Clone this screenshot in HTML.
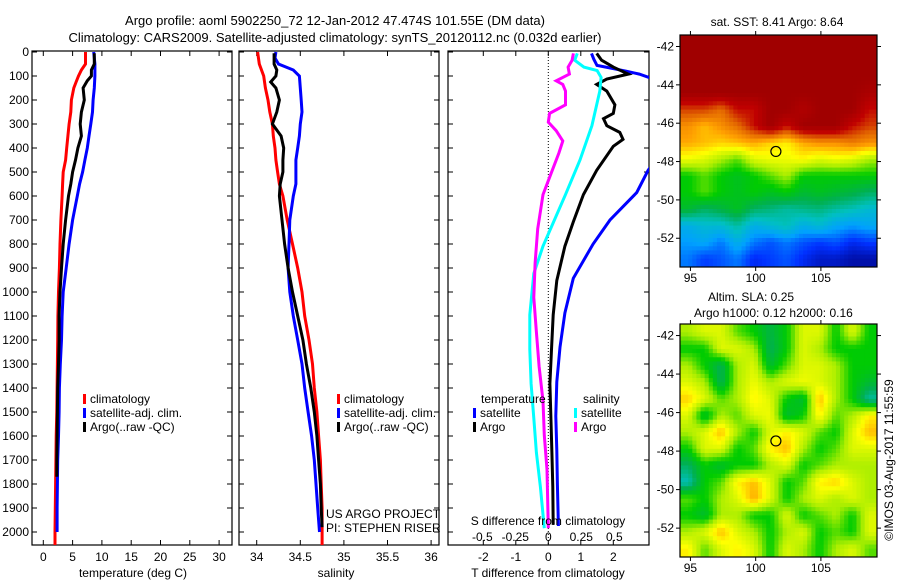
<!DOCTYPE html>
<html><head><meta charset="utf-8"><style>
body{margin:0;background:#fff;}
svg{display:block;font-family:"Liberation Sans",sans-serif;font-size:12px;}
</style></head><body>
<svg id="fig" width="900" height="580" viewBox="0 0 900 580">
<text x="335" y="25" text-anchor="middle" font-size="13">Argo profile: aoml 5902250_72 12-Jan-2012 47.474S 101.55E (DM data)</text>
<text x="335" y="42" text-anchor="middle" font-size="13">Climatology: CARS2009. Satellite-adjusted climatology: synTS_20120112.nc (0.032d earlier)</text>
<defs>
<clipPath id="c1"><rect x="32" y="33" width="200" height="512"/></clipPath>
<clipPath id="c2"><rect x="239" y="33" width="200" height="512"/></clipPath>
<clipPath id="c3"><rect x="448" y="33" width="201" height="512"/></clipPath>
</defs>
<g id="g1"></g><g id="g2"></g><g id="g3"></g><g id="g4"></g><g id="g5"></g>
</svg>
<script>
// ---- depth axis
const depthTicks=[0,100,200,300,400,500,600,700,800,900,1000,1100,1200,1300,1400,1500,1600,1700,1800,1900,2000];
// ---- temperature panel
const tDepth=[0,50,75,100,125,150,200,250,300,350,400,450,500,550,600,700,800,900,1000,1100,1200,1300,1400,1500,1600,1700,1800,1900,2000,2060];
const tClim=[7.2,7.2,6.5,6.0,5.6,5.2,4.8,4.7,4.4,4.2,4.0,3.8,3.4,3.3,3.2,3.0,2.85,2.75,2.6,2.5,2.45,2.4,2.35,2.3,2.2,2.15,2.1,2.05,2.0,2.0];
const tSatDepth=[0,50,100,150,200,250,300,350,400,450,500,550,600,700,800,900,1000,1100,1200,1300,1400,1500,1600,1700,1800,1900,2000];
const tSat=[8.6,8.8,8.8,8.7,8.5,8.4,8.1,7.8,7.5,7.1,6.7,6.2,5.8,5.0,4.4,3.9,3.4,3.2,3.1,2.9,2.75,2.7,2.6,2.45,2.4,2.35,2.35];
const tArgoDepth=[5,50,75,100,120,150,200,250,300,350,400,450,500,550,600,700,800,900,1000,1100,1200,1300,1400,1500,1600,1700,1770];
const tArgo=[8.7,8.7,8.2,8.2,7.5,6.8,7.0,6.5,6.3,6.5,5.9,5.5,5.0,4.7,4.3,3.8,3.4,3.1,2.85,2.7,2.7,2.6,2.45,2.4,2.35,2.3,2.3];
const tTicks=[0,5,10,15,20,25,30];
// ---- salinity panel
const sDepth=[0,50,100,150,200,250,300,350,400,450,500,550,600,700,800,900,1000,1100,1200,1300,1400,1500,1600,1700,1800,1900,2000,2060];
const sClim=[34.01,34.03,34.08,34.10,34.13,34.15,34.18,34.19,34.21,34.22,34.24,34.26,34.30,34.35,34.41,34.47,34.52,34.55,34.60,34.64,34.66,34.69,34.71,34.73,34.74,34.75,34.75,34.75];
const sSatDepth=[0,25,50,75,100,150,200,250,300,350,400,450,500,550,600,700,800,900,1000,1100,1200,1300,1400,1500,1600,1700,1800,1900,2000];
const sSat=[34.22,34.21,34.25,34.42,34.49,34.50,34.51,34.52,34.50,34.49,34.47,34.45,34.45,34.45,34.42,34.38,34.37,34.36,34.38,34.42,34.47,34.52,34.55,34.59,34.63,34.66,34.68,34.70,34.72];
const sArgoDepth=[5,50,75,100,125,150,200,250,300,350,400,450,500,550,600,700,800,900,1000,1100,1200,1300,1400,1500,1600,1700,1800,1900,1980];
const sArgo=[34.20,34.20,34.23,34.22,34.16,34.22,34.26,34.23,34.18,34.28,34.31,34.30,34.30,34.27,34.26,34.29,34.32,34.36,34.41,34.47,34.53,34.57,34.62,34.66,34.69,34.71,34.73,34.74,34.75];
const sTicks=[34,34.5,35,35.5,36];
const sTickLabels=["34","34.5","35","35.5","36"];
// ---- difference panel
const dtSatDepth=[6,30,56,80,92,106,150,300,450,493,586,700,800,943,1087,1230,1374,1517,1660,1803,1975];
const dtSat=[1.33,1.4,1.5,2.4,2.8,3.1,4,4.5,3.3,3.07,2.72,1.9,1.38,0.77,0.51,0.36,0.26,0.23,0.26,0.28,0.31];
const dtArgoDepth=[6,34,63,92,113,135,163,220,256,278,307,335,364,393,493,594,708,809,952,1095,1239,1382,1525,1669,1812,1970];
const dtArgo=[1.49,1.64,2.0,2.46,1.8,1.49,1.8,2.05,2.0,1.7,1.8,2.2,2.3,2.0,1.49,1.08,0.77,0.51,0.26,0.15,0.10,0.05,0.08,0.11,0.14,0.15];
const dsSatDepth=[6,34,63,77,106,163,307,450,594,708,809,923,1095,1239,1382,1525,1669,1812,1984];
const dsSat=[0.22,0.20,0.27,0.37,0.40,0.39,0.33,0.24,0.13,0.04,-0.04,-0.11,-0.14,-0.14,-0.13,-0.11,-0.09,-0.06,-0.03];
const dsArgoDepth=[6,34,63,92,120,135,163,220,256,292,328,371,421,522,594,737,880,1023,1167,1310,1454,1597,1740,1984];
const dsArgo=[0.19,0.18,0.15,0.16,0.06,0.11,0.13,0.13,0.01,0.0,0.06,0.11,0.08,0.01,-0.04,-0.08,-0.10,-0.11,-0.09,-0.07,-0.04,-0.03,-0.01,0.0];
const dtTicks=[-2,-1,0,1,2];
const dsTicks=[-0.5,-0.25,0,0.25,0.5];
// ---- maps
const lonTicks=[95,100,105];
const latTicks=[-42,-44,-46,-48,-50,-52];
const sstGrid=[
[1,1,1,1,1,1,1,1,1,1,1,1],
[1,1,1,1,1,1,1,1,1,1,1,1],
[1,1,1,1,1,1,1,1,1,1,1,1],
[1,1,1,1,1,1,1,1,1,1,1,0.97],
[0.85,0.85,0.8,0.9,0.9,1,1,0.95,1,1,1,0.9],
[0.75,0.7,0.75,0.8,0.9,1,0.9,1,1,1,0.9,0.85],
[0.72,0.7,0.68,0.7,0.72,0.68,0.65,0.72,0.75,0.75,0.78,0.75],
[0.62,0.6,0.55,0.5,0.6,0.62,0.62,0.64,0.6,0.62,0.6,0.55],
[0.45,0.5,0.45,0.42,0.45,0.5,0.55,0.45,0.45,0.45,0.45,0.45],
[0.45,0.5,0.45,0.42,0.45,0.42,0.45,0.4,0.42,0.4,0.38,0.35],
[0.4,0.35,0.38,0.42,0.35,0.33,0.3,0.32,0.33,0.3,0.28,0.25],
[0.22,0.25,0.25,0.3,0.22,0.25,0.28,0.22,0.25,0.2,0.18,0.2],
[0.18,0.2,0.15,0.22,0.15,0.12,0.15,0.12,0.1,0.12,0.08,0.1],
[0.15,0.1,0.12,0.15,0.08,0.1,0.12,0.08,0.05,0.05,0.03,0.03]];
const slaGrid=[
[0.55,0.6,0.6,0.5,0.45,0.38,0.45,0.6,0.6,0.45,0.6,0.45],
[0.45,0.45,0.6,0.6,0.55,0.36,0.45,0.6,0.55,0.45,0.45,0.45],
[0.55,0.45,0.36,0.55,0.6,0.4,0.5,0.6,0.6,0.55,0.45,0.45],
[0.6,0.55,0.36,0.55,0.62,0.55,0.6,0.62,0.6,0.55,0.45,0.4],
[0.68,0.6,0.5,0.55,0.65,0.6,0.45,0.4,0.7,0.55,0.45,0.3],
[0.6,0.4,0.55,0.5,0.6,0.62,0.4,0.45,0.65,0.5,0.55,0.65],
[0.55,0.6,0.7,0.55,0.45,0.6,0.65,0.6,0.5,0.45,0.6,0.7],
[0.45,0.6,0.6,0.45,0.5,0.65,0.7,0.55,0.45,0.5,0.6,0.6],
[0.35,0.45,0.4,0.45,0.45,0.55,0.6,0.45,0.5,0.55,0.55,0.55],
[0.28,0.45,0.5,0.65,0.7,0.6,0.45,0.5,0.65,0.68,0.6,0.55],
[0.5,0.45,0.55,0.6,0.72,0.6,0.45,0.55,0.6,0.55,0.6,0.55],
[0.45,0.4,0.55,0.55,0.45,0.45,0.6,0.45,0.5,0.55,0.45,0.6],
[0.55,0.6,0.7,0.6,0.55,0.45,0.55,0.6,0.45,0.5,0.45,0.6],
[0.65,0.5,0.6,0.65,0.6,0.45,0.6,0.55,0.45,0.55,0.6,0.5]];
const argoLon=101.55, argoLat=-47.474;

const NS="http://www.w3.org/2000/svg";
function mk(tag,parent,attrs,text){const e=document.createElementNS(NS,tag);for(const k in attrs)e.setAttribute(k,attrs[k]);if(text!==undefined)e.textContent=text;parent.appendChild(e);return e;}
const Y0=51, Y1=545;
const yD=d=>52+d*0.24;
const xT=t=>43.3+t*5.86;
const xS=s=>256.7+(s-34)*87.2;
const xDT=t=>548.3+t*32.5;
const xDS=s=>548.3+s*132;

function axesBox(g,x0,x1,y0,y1){
  const r=mk('rect',g,{x:x0,y:y0,width:x1-x0,height:y1-y0,fill:'none',stroke:'#000','stroke-width':1.2});
  
  
}
function depthTickMarks(g,x0,x1,labels){
  depthTicks.forEach(d=>{
    const y=yD(d);
    mk('line',g,{x1:x0,x2:x0+5,y1:y,y2:y,stroke:'#000'});
    mk('line',g,{x1:x1,x2:x1-5,y1:y,y2:y,stroke:'#000'});
    if(labels){const t=mk('text',g,{x:x0-3,y:y+4,'text-anchor':'end'},String(d));
      
      }
  });
}
function xTicks(g,vals,labs,fx,yTop,yBot,labY){
  vals.forEach((v,i)=>{const x=fx(v);
    mk('line',g,{x1:x,x2:x,y1:yTop,y2:yTop+5,stroke:'#000'});
    mk('line',g,{x1:x,x2:x,y1:yBot,y2:yBot-5,stroke:'#000'});
    if(labY){const t=mk('text',g,{x:x,y:labY,'text-anchor':'middle'},labs[i]);
      
      }
  });
}
function line(g,xs,ds,fx,color,clip,name){
  const pts=xs.map((v,i)=>fx(v).toFixed(1)+','+yD(ds[i]).toFixed(1)).join(' ');
  const p=mk('polyline',g,{points:pts,fill:'none',stroke:color,'stroke-width':3,'clip-path':'url(#'+clip+')'});
  
  
}
function legend(g,x,y,color,label){
  mk('rect',g,{x:x,y:y-9,width:3,height:10,fill:color});
  const t=mk('text',g,{x:x+7,y:y},label);
  
  
}

// Panel 1
const g1=document.getElementById('g1');


axesBox(g1,32,232,Y0,Y1);
depthTickMarks(g1,32,232,true);
xTicks(g1,tTicks,tTicks.map(String),xT,Y0,Y1,561);
line(g1,tClim,tDepth,xT,'#ff0000','c1','temp-climatology-line');
line(g1,tSat,tSatDepth,xT,'#0000ff','c1','temp-satellite-line');
line(g1,tArgo,tArgoDepth,xT,'#000000','c1','temp-argo-line');
legend(g1,83,403,'#ff0000','climatology');
legend(g1,83,417,'#0000ff','satellite-adj. clim.');
legend(g1,83,431,'#000000','Argo(..raw -QC)');
let t=mk('text',g1,{x:133,y:577,'text-anchor':'middle'},'temperature (deg C)');



// Panel 2
const g2=document.getElementById('g2');


axesBox(g2,239,439,Y0,Y1);
depthTickMarks(g2,239,439,false);
xTicks(g2,sTicks,sTickLabels,xS,Y0,Y1,561);
line(g2,sClim,sDepth,xS,'#ff0000','c2','sal-climatology-line');
line(g2,sSat,sSatDepth,xS,'#0000ff','c2','sal-satellite-line');
line(g2,sArgo,sArgoDepth,xS,'#000000','c2','sal-argo-line');
legend(g2,337,403,'#ff0000','climatology');
legend(g2,337,417,'#0000ff','satellite-adj. clim.');
legend(g2,337,431,'#000000','Argo(..raw -QC)');
t=mk('text',g2,{x:326,y:518},'US ARGO PROJECT');


t=mk('text',g2,{x:326,y:532},'PI: STEPHEN RISER');


t=mk('text',g2,{x:336,y:577,'text-anchor':'middle'},'salinity');



// Panel 3
const g3=document.getElementById('g3');


axesBox(g3,448,649,Y0,Y1);
depthTickMarks(g3,448,649,false);
xTicks(g3,dtTicks,dtTicks.map(String),xDT,Y0,Y1,561);
mk('line',g3,{x1:xDT(0),x2:xDT(0),y1:Y0,y2:Y1,stroke:'#000','stroke-dasharray':'1,2'});
line(g3,dtSat,dtSatDepth,xDT,'#0000ff','c3','tdiff-satellite-line');
line(g3,dtArgo,dtArgoDepth,xDT,'#000000','c3','tdiff-argo-line');
line(g3,dsSat,dsSatDepth,xDS,'#00ffff','c3','sdiff-satellite-line');
line(g3,dsArgo,dsArgoDepth,xDS,'#ff00ff','c3','sdiff-argo-line');
t=mk('text',g3,{x:481,y:403},'temperature');


t=mk('text',g3,{x:583,y:403},'salinity');


legend(g3,473,417,'#0000ff','satellite');
legend(g3,473,431,'#000000','Argo');
legend(g3,574,417,'#00ffff','satellite');
legend(g3,574,431,'#ff00ff','Argo');
t=mk('text',g3,{x:548,y:525,'text-anchor':'middle'},'S difference from climatology');


dsTicks.forEach(v=>{const tt=mk('text',g3,{x:xDS(v),y:541,'text-anchor':'middle'},String(v));
  
  });
t=mk('text',g3,{x:548,y:577,'text-anchor':'middle'},'T difference from climatology');



// Maps
const stops=['#000080','#0030ff','#00a0ff','#00c0c0','#00b050','#00cc00','#aaee00','#ffff00','#ffa000','#e06000','#c00000','#a00000'];
function hex(c){return [1,3,5].map(i=>parseInt(c.substr(i,2),16));}
function cmap(v){v=Math.max(0,Math.min(1,v));const f=v*(stops.length-1);const i=Math.min(stops.length-2,Math.floor(f));const r=f-i;const a=hex(stops[i]),b=hex(stops[i+1]);return 'rgb('+a.map((x,k)=>Math.round(x+(b[k]-x)*r)).join(',')+')';}
const lon0=94.2,lon1=109.3,lat0=-41.4,lat1=-53.5;
const xLon=l=>680+(l-lon0)*(197/(lon1-lon0));
function sample(grid,fr,fc){
  const nr=grid.length,nc=grid[0].length;
  const r=Math.max(0,Math.min(nr-1,fr-0.5)),c=Math.max(0,Math.min(nc-1,fc-0.5));
  const r0=Math.floor(r),c0=Math.floor(c),r1=Math.min(nr-1,r0+1),c1=Math.min(nc-1,c0+1);
  const a=r-r0,b=c-c0;
  return grid[r0][c0]*(1-a)*(1-b)+grid[r0][c1]*(1-a)*b+grid[r1][c0]*a*(1-b)+grid[r1][c1]*a*b;
}
function drawMap(gid,name,grid,top,bot,titles){
  const g=document.getElementById(gid);
  
  
  const yLat=la=>top+(la-lat0)*((bot-top)/(lat1-lat0));
  const nr=grid.length,nc=grid[0].length,sub=4;
  const dlon=(lon1-lon0)/(nc*sub),dlat=(lat1-lat0)/(nr*sub);
  for(let r=0;r<nr*sub;r++)for(let c=0;c<nc*sub;c++){
    const v=sample(grid,(r+0.5)/sub,(c+0.5)/sub);
    const x=xLon(lon0+c*dlon),x2=xLon(lon0+(c+1)*dlon),y=yLat(lat0+r*dlat),y2=yLat(lat0+(r+1)*dlat);
    const cell=mk('rect',g,{x:x.toFixed(2),y:y.toFixed(2),width:(x2-x+0.5).toFixed(2),height:(y2-y+0.5).toFixed(2),fill:cmap(v)});
    
    
  }
  mk('rect',g,{x:680,y:top,width:197,height:bot-top,fill:'none',stroke:'#000','stroke-width':1.2});
  lonTicks.forEach(l=>{const x=xLon(l);
    mk('line',g,{x1:x,x2:x,y1:top,y2:top-4,stroke:'#000'});
    mk('line',g,{x1:x,x2:x,y1:bot,y2:bot+4,stroke:'#000'});
    const tt=mk('text',g,{x:x,y:bot+15,'text-anchor':'middle'},String(l));
    
    });
  latTicks.forEach(la=>{const y=yLat(la);
    mk('line',g,{x1:680,x2:676,y1:y,y2:y,stroke:'#000'});
    mk('line',g,{x1:877,x2:881,y1:y,y2:y,stroke:'#000'});
    const tt=mk('text',g,{x:674,y:y+4,'text-anchor':'end'},String(la));
    
    });
  const m=mk('circle',g,{cx:xLon(argoLon),cy:yLat(argoLat),r:5,fill:'none',stroke:'#000','stroke-width':1.2});
  
  
  titles.forEach(o=>{const tt=mk('text',g,{x:o[0],y:o[1],'text-anchor':o[3]||'start'},o[2]);
    
    });
}
drawMap('g4','sst-map',sstGrid,35,267,[[777,26,'sat. SST: 8.41  Argo: 8.64','middle']]);
drawMap('g5','sla-map',slaGrid,324,557,[[708,301,'Altim. SLA: 0.25'],[694,317,'Argo h1000: 0.12 h2000: 0.16']]);
const g5=document.getElementById('g5');
t=mk('text',g5,{x:0,y:0,'text-anchor':'middle',transform:'translate(893,460) rotate(-90)'},'©IMOS 03-Aug-2017 11:55:59');


</script>
</body></html>
